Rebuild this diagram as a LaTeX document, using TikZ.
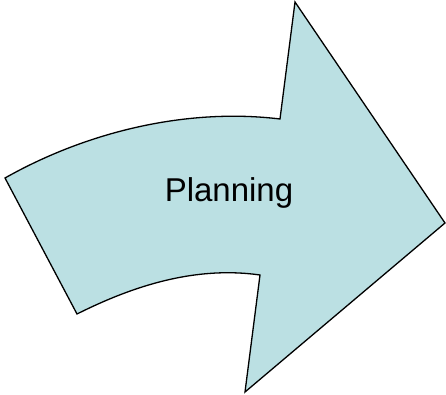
\documentclass[tikz,border=0pt]{standalone}
\usepackage{fontspec}
\setmainfont{Liberation Sans}
\definecolor{a}{RGB}{187, 224, 227}

\begin{document}
\begin{tikzpicture}[x=1pt,y=-1pt]
\useasboundingbox (0,0) rectangle (446,395);
\coordinate (L1) at (5,178);
\coordinate (T1) at (280,119);
\coordinate (T2) at (295,2);
\coordinate (P) at (445,223);
\coordinate (B2) at (245,392);
\coordinate (B1) at (260,275);
\coordinate (L2) at (77,314);

\draw[fill=a,line width=1.3pt,line join=miter] (L1) .. controls (90,130) and (190,108) .. (T1) -- (T2) -- (P) -- (B2) -- (B1)
  .. controls (190,265) and (125,290) .. (L2) -- cycle;
\node (N) at (229,193) {\fontsize{33}{40}\selectfont Planning};
\end{tikzpicture}
\end{document}
